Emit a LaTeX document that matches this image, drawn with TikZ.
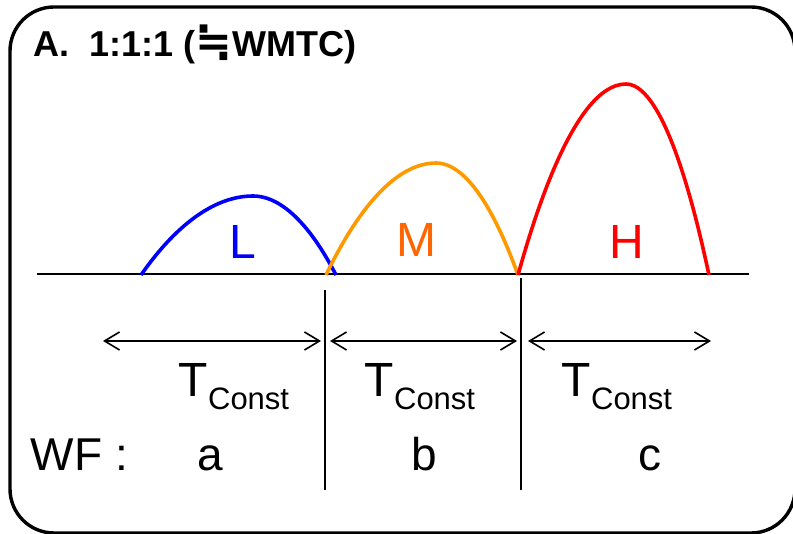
\documentclass[tikz,border=0pt]{standalone}
\usepackage{fontspec}
\setmainfont{Liberation Sans}
\newfontfamily\symfont{DejaVu Sans}
\usetikzlibrary{arrows.meta, positioning}
\definecolor{cblue}{RGB}{0,0,255}
\definecolor{corange}{RGB}{255,153,0}
\definecolor{cmtext}{RGB}{255,102,0}
\definecolor{cred}{RGB}{255,0,0}
\tikzset{
  every picture/.style={x=1pt, y=-1pt, line width=1.6pt},
  wave/.style={draw=#1, line width=3.6pt},
  span/.style={{Straight Barb[length=15pt,width=18pt]}-{Straight Barb[length=15pt,width=18pt]}, line width=1.6pt},
  big/.style={font=\fontsize{48}{48}\selectfont, inner sep=0pt, anchor=base},
  wflabel/.style={font=\fontsize{46}{46}\selectfont, inner sep=0pt, anchor=base},
  title/.style={font=\fontsize{36}{36}\selectfont\bfseries, inner sep=0pt, anchor=base west},
}
\newcommand{\tconst}{T\raisebox{-13pt}{\fontsize{31}{31}\selectfont Const}}

\begin{document}
\begin{tikzpicture}
  \useasboundingbox (0,0) rectangle (793,534);
  % frame, partly cut off at the right and bottom
  \draw[line width=3.4pt, rounded corners=44pt] (10,7) rectangle (795,533);
  \node[title] (title) at (33,57) {A.\ \ 1:1:1 ({\symfont\fontsize{44}{44}\selectfont ≒}WMTC)};

  % time axis and the three waves
  \coordinate (axisL) at (37,274);
  \coordinate (axisR) at (749,274);
  \draw[line width=1.8pt] (axisL) -- (axisR);
  \draw[wave=cblue]   (141,275) parabola bend (253,196) (336,275);
  \draw[wave=corange] (326,275) parabola bend (436,163) (518,275);
  \draw[wave=cred]    (518,275) parabola bend (626,84) (709,275);
  \node[big, text=cblue]  (L) at (243,259) {L};
  \node[big, text=cmtext] (M) at (416,257) {M};
  \node[big, text=cred]   (H) at (627,259) {H};

  % dividers
  \coordinate (d1top) at (325,290);
  \coordinate (d1bot) at (325,490);
  \coordinate (d2top) at (521,278);
  \coordinate (d2bot) at (521,490);
  \draw[line width=1.3pt] (d1top) -- (d1bot);
  \draw[line width=1.3pt] (d2top) -- (d2bot);

  % periods
  \coordinate (p0) at (103,341);
  \coordinate (p1) at (321,341);
  \coordinate (p2) at (330,341);
  \coordinate (p3) at (517,341);
  \coordinate (p4) at (528,341);
  \coordinate (p5) at (711,341);
  \draw[span] (p0) -- (p1);
  \draw[span] (p2) -- (p3);
  \draw[span] (p4) -- (p5);
  \node[big, anchor=base west] (t1) at (178,397) {\tconst};
  \node[big, anchor=base west] (t2) at (364,397) {\tconst};
  \node[big, anchor=base west] (t3) at (561,397) {\tconst};

  % waveforms
  \node[wflabel, anchor=base west] (wf) at (30,471) {WF :};
  \node[wflabel] (wfa) at (210,471) {a};
  \node[wflabel] (wfb) at (424,471) {b};
  \node[wflabel] (wfc) at (650,471) {c};
\end{tikzpicture}
\end{document}
